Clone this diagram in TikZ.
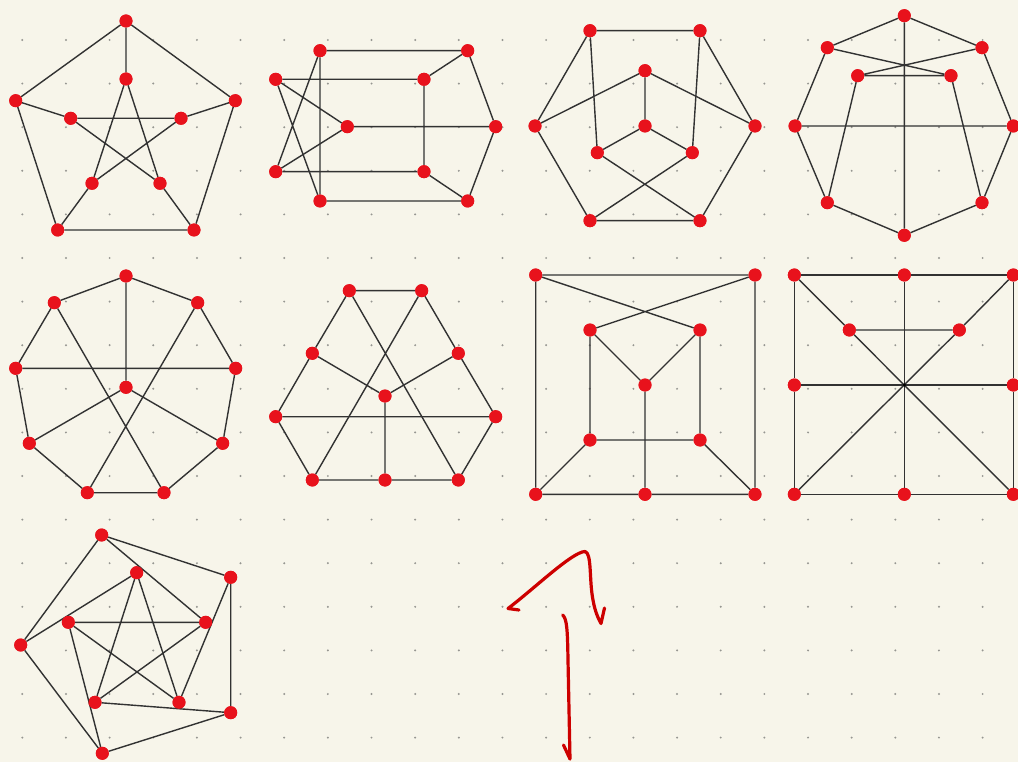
\documentclass[tikz,border=0pt]{standalone}
\usepackage{tikz}
\definecolor{bg}{RGB}{247,245,234}
\definecolor{griddot}{RGB}{150,150,145}
\definecolor{vred}{RGB}{232,18,28}
\definecolor{edgec}{RGB}{50,50,50}
\definecolor{inkred}{RGB}{205,0,0}
\tikzset{
  vtx/.style={circle,fill=vred,draw=none,inner sep=0pt,minimum size=13pt},
  edg/.style={draw=edgec,line width=1.4pt},
  ink/.style={draw=inkred,line width=3.2pt,line cap=round,line join=round}
}
\begin{document}
\begin{tikzpicture}[x=1pt,y=-1pt]
\fill[bg] (0,0) rectangle (1018,762);
\useasboundingbox (0,0) rectangle (1018,762);
\clip (0,0) rectangle (1018,762);
\foreach \i in {0,...,22}{
  \foreach \j in {0,...,16}{
    \fill[griddot] ({22.3+43.65*\i},{40+43.6*\j}) circle (1.1pt);
  }
}
% ---------- Graph 1 ----------
\node[vtx] (a1) at (126,21) {};
\node[vtx] (a2) at (15.7,100.7) {};
\node[vtx] (a3) at (235.3,100.7) {};
\node[vtx] (a4) at (57.7,230) {};
\node[vtx] (a5) at (194,230) {};
\node[vtx] (a6) at (126,79) {};
\node[vtx] (a7) at (70.7,118.3) {};
\node[vtx] (a8) at (181,118.3) {};
\node[vtx] (a9) at (92,183.3) {};
\node[vtx] (a10) at (160,183.3) {};
% ---------- Graph 2 ----------
\node[vtx] (b1) at (320,50.7) {};
\node[vtx] (b2) at (467.7,50.7) {};
\node[vtx] (b3) at (275.7,79.3) {};
\node[vtx] (b4) at (424,79.3) {};
\node[vtx] (b5) at (347.3,126.7) {};
\node[vtx] (b6) at (495.7,126.7) {};
\node[vtx] (b7) at (275.7,171.7) {};
\node[vtx] (b8) at (424,171.7) {};
\node[vtx] (b9) at (320,201) {};
\node[vtx] (b10) at (467.7,201) {};
% ---------- Graph 3 ----------
\node[vtx] (c1) at (590,30.7) {};
\node[vtx] (c2) at (700,30.7) {};
\node[vtx] (c3) at (645,70.7) {};
\node[vtx] (c4) at (535,126) {};
\node[vtx] (c5) at (645,126) {};
\node[vtx] (c6) at (755,126) {};
\node[vtx] (c7) at (597.3,152.7) {};
\node[vtx] (c8) at (692.3,152.7) {};
\node[vtx] (c9) at (590,220.7) {};
\node[vtx] (c10) at (700,220.7) {};
% ---------- Graph 4 ----------
\node[vtx] (d1) at (904.3,15.7) {};
\node[vtx] (d2) at (827.3,47.7) {};
\node[vtx] (d3) at (982,47.7) {};
\node[vtx] (d4) at (857.7,75.7) {};
\node[vtx] (d5) at (951,75.7) {};
\node[vtx] (d6) at (795,126) {};
\node[vtx] (d7) at (1013.3,126) {};
\node[vtx] (d8) at (827.3,202.7) {};
\node[vtx] (d9) at (982,202.7) {};
\node[vtx] (d10) at (904.3,235.3) {};
% ---------- Graph 5 ----------
\node[vtx] (e1) at (126,276) {};
\node[vtx] (e2) at (54.3,302.7) {};
\node[vtx] (e3) at (197.7,302.7) {};
\node[vtx] (e4) at (15.7,368.3) {};
\node[vtx] (e5) at (235.7,368.3) {};
\node[vtx] (e6) at (126,387.3) {};
\node[vtx] (e7) at (29.3,443.3) {};
\node[vtx] (e8) at (222.7,443.3) {};
\node[vtx] (e9) at (87.3,492.7) {};
\node[vtx] (e10) at (164,492.7) {};
% ---------- Graph 6 ----------
\node[vtx] (f1) at (349.3,290.7) {};
\node[vtx] (f2) at (421.7,290.7) {};
\node[vtx] (f3) at (312.3,353.3) {};
\node[vtx] (f4) at (458.3,353.3) {};
\node[vtx] (f5) at (385,396) {};
\node[vtx] (f6) at (275.7,416.7) {};
\node[vtx] (f7) at (495.7,416.7) {};
\node[vtx] (f8) at (312.3,480) {};
\node[vtx] (f9) at (385,480) {};
\node[vtx] (f10) at (458.3,480) {};
% ---------- Graph 7 ----------
\node[vtx] (g1) at (535.7,275) {};
\node[vtx] (g2) at (755,275) {};
\node[vtx] (g3) at (590,330) {};
\node[vtx] (g4) at (700,330) {};
\node[vtx] (g5) at (645,385) {};
\node[vtx] (g6) at (590,440) {};
\node[vtx] (g7) at (700,440) {};
\node[vtx] (g8) at (535.7,494.3) {};
\node[vtx] (g9) at (645,494.3) {};
\node[vtx] (g10) at (755,494.3) {};
% ---------- Graph 8 ----------
\node[vtx] (h1) at (794.3,275) {};
\node[vtx] (h2) at (904.3,275) {};
\node[vtx] (h3) at (1013.3,275) {};
\node[vtx] (h4) at (849.3,330) {};
\node[vtx] (h5) at (959.3,330) {};
\node[vtx] (h6) at (794.3,385) {};
\node[vtx] (h7) at (1013.3,385) {};
\node[vtx] (h8) at (794.3,494.3) {};
\node[vtx] (h9) at (904.3,494.3) {};
\node[vtx] (h10) at (1013.3,494.3) {};
% ---------- Graph 9 ----------
\node[vtx] (k1) at (101.7,535) {};
\node[vtx] (k2) at (230.7,577.3) {};
\node[vtx] (k3) at (20.7,645) {};
\node[vtx] (k4) at (230.7,712.7) {};
\node[vtx] (k5) at (102.3,753.3) {};
\node[vtx] (k6) at (136.7,572.7) {};
\node[vtx] (k7) at (68.3,622.3) {};
\node[vtx] (k8) at (205.7,622.3) {};
\node[vtx] (k9) at (95,702.3) {};
\node[vtx] (k10) at (179,702.3) {};
% ---------- edges (drawn then vertices redrawn on top) ----------
\begin{scope}[every path/.style={edg}]
% G1
\draw (a1)--(a2) (a1)--(a3) (a2)--(a4) (a3)--(a5) (a4)--(a5);
\draw (a1)--(a6) (a2)--(a7) (a3)--(a8) (a4)--(a9) (a5)--(a10);
\draw (a6)--(a9) (a6)--(a10) (a7)--(a8) (a7)--(a10) (a8)--(a9);
% G2
\draw (b1)--(b2) (b1)--(b9) (b1)--(b7) (b3)--(b4) (b3)--(b5) (b3)--(b9);
\draw (b2)--(b4) (b2)--(b6) (b4)--(b8) (b5)--(b6) (b5)--(b7) (b7)--(b8);
\draw (b8)--(b10) (b9)--(b10) (b6)--(b10);
% G3
\draw (c1)--(c2) (c1)--(c4) (c1)--(c7) (c2)--(c6) (c2)--(c8);
\draw (c3)--(c4) (c3)--(c6) (c3)--(c5) (c5)--(c7) (c5)--(c8);
\draw (c4)--(c9) (c6)--(c10) (c9)--(c10) (c7)--(c10) (c8)--(c9);
% G4
\draw (d1)--(d2) (d1)--(d3) (d1)--(d10) (d2)--(d5) (d3)--(d4) (d4)--(d5);
\draw (d2)--(d6) (d3)--(d7) (d6)--(d7) (d6)--(d8) (d7)--(d9);
\draw (d8)--(d10) (d9)--(d10) (d4)--(d8) (d5)--(d9);
% G5
\draw (e1)--(e2) (e1)--(e3) (e1)--(e6) (e2)--(e4) (e3)--(e5) (e4)--(e5);
\draw (e2)--(e10) (e3)--(e9) (e4)--(e7) (e5)--(e8) (e6)--(e7) (e6)--(e8);
\draw (e7)--(e9) (e8)--(e10) (e9)--(e10);
% G6
\draw (f1)--(f2) (f1)--(f3) (f2)--(f4) (f1)--(f10) (f2)--(f8);
\draw (f3)--(f5) (f4)--(f5) (f5)--(f9) (f3)--(f6) (f4)--(f7) (f6)--(f7);
\draw (f6)--(f8) (f7)--(f10) (f8)--(f9) (f9)--(f10);
% G7
\draw (g1)--(g2) (g1)--(g8) (g2)--(g10) (g1)--(g4) (g2)--(g3);
\draw (g3)--(g5) (g4)--(g5) (g3)--(g6) (g4)--(g7) (g5)--(g9);
\draw (g6)--(g7) (g6)--(g8) (g7)--(g10) (g8)--(g9) (g9)--(g10);
% G8
\draw (h1)--(h2) (h2)--(h3) (h1)--(h6) (h6)--(h8) (h3)--(h7) (h7)--(h10);
\draw (h8)--(h9) (h9)--(h10) (h2)--(h9) (h6)--(h7);
\draw (h1)--(h4) (h4)--(h10) (h3)--(h5) (h5)--(h8) (h4)--(h5);
% G9
\draw (k1)--(k2) (k1)--(k3) (k2)--(k4) (k3)--(k5) (k4)--(k5);
\draw (k1)--(k8) (k2)--(k10) (k3)--(k6) (k4)--(k9) (k5)--(k7);
\draw (k6)--(k9) (k6)--(k10) (k7)--(k8) (k7)--(k10) (k8)--(k9);
\end{scope}
\fill[black] (904.3,385) circle (1.8pt);
% redraw vertices above edges
\foreach \n in {a,b,c,d,e,f,g,h,k}{
  \foreach \m in {1,...,10}{
    \fill[vred] (\n\m.center) circle (6.5pt);
  }
}
% ---------- freehand red strokes ----------
\draw[ink] (519,610) -- (508,608.5)
  .. controls (535,588) and (572,552) .. (585,551.5)
  .. controls (592,553) and (589,580) .. (593,600)
  .. controls (595,612) and (599,620) .. (601,623.5) -- (604.5,608);
\draw[ink] (562.7,615) .. controls (567,619) and (567.5,630) .. (568,660)
  -- (570,759) -- (563.5,745);
\end{tikzpicture}
\end{document}
